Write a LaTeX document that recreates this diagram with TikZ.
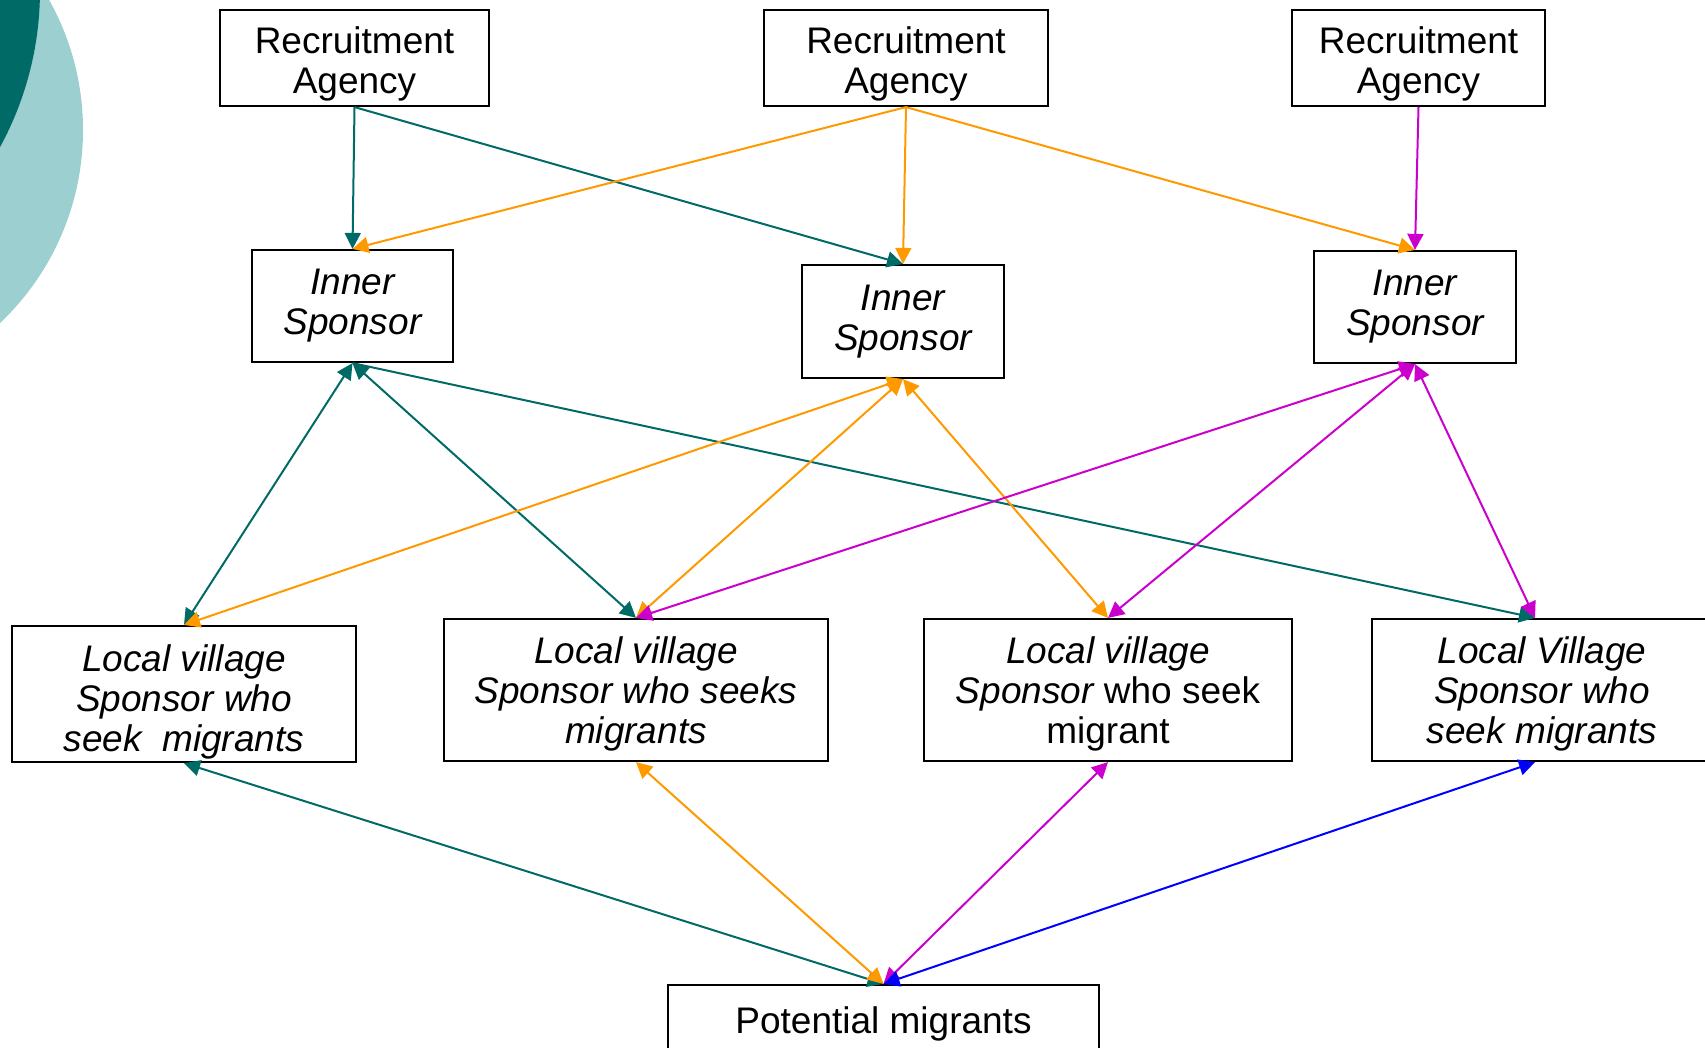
\documentclass[tikz,border=0pt]{standalone}
\usepackage{fontspec}
\setmainfont{Liberation Sans}
\usetikzlibrary{arrows.meta}
\definecolor{teal1}{HTML}{006B66}
\definecolor{lteal}{HTML}{9CCFCF}
\definecolor{org}{HTML}{FF9900}
\definecolor{mag}{HTML}{CC00CC}
\definecolor{blu}{HTML}{0000FF}
\newcommand{\dnshift}[1]{\rule{0pt}{\dimexpr 27pt+#1pt*2\relax}}
\tikzset{
  box/.style={draw=black, line width=2.2pt, fill=white, inner sep=0pt, align=center,
    font=\fontsize{37}{40}\selectfont},
  con/.style={line width=2pt, -{Triangle[length=16pt,width=16pt]}},
  bicon/.style={line width=2pt, {Triangle[length=16pt,width=16pt]}-{Triangle[length=16pt,width=16pt]}},
}
\begin{document}
\begin{tikzpicture}[x=1pt,y=-1pt]
\useasboundingbox (0,0) rectangle (1705,1047);
\fill[white] (0,0) rectangle (1705,1047);
\fill[lteal] (-183,130) circle[radius=266];
\fill[teal1] (-288,-10) circle[radius=328];

\node[box, minimum width=269pt, minimum height=96pt] (ra1) at (354.5,58) {\dnshift{6}Recruitment\\Agency};
\node[box, minimum width=284pt, minimum height=96pt] (ra2) at (906,58) {\dnshift{6}Recruitment\\Agency};
\node[box, minimum width=253pt, minimum height=96pt] (ra3) at (1418.5,58) {\dnshift{6}Recruitment\\Agency};

\node[box, minimum width=201pt, minimum height=112pt] (is1) at (352.5,306) {\itshape Inner\\\itshape Sponsor};
\node[box, minimum width=202pt, minimum height=113pt] (is2) at (903,321.5) {\itshape Inner\\\itshape Sponsor};
\node[box, minimum width=202pt, minimum height=112pt] (is3) at (1415,307) {\itshape Inner\\\itshape Sponsor};

\node[box, minimum width=344pt, minimum height=136pt] (lv1) at (184,694) {\dnshift{7.6}\itshape Local village\\\itshape Sponsor who\\\itshape seek\ \ migrants};
\node[box, minimum width=384pt, minimum height=142pt] (lv2) at (636,690) {\dnshift{3.8}\itshape Local village\\\itshape Sponsor who seeks\\\itshape migrants};
\node[box, minimum width=368pt, minimum height=142pt] (lv3) at (1108,690) {\dnshift{3.8}\itshape Local village\\{\itshape Sponsor} who seek\\migrant};
\node[box, minimum width=340pt, minimum height=142pt] (lv4) at (1542,690) {\dnshift{3.8}\itshape Local Village\\\itshape Sponsor who\\\itshape seek migrants};

\node[box, minimum width=431pt, minimum height=68pt] (pm) at (883.5,1019) {\dnshift{4.4}Potential migrants};

% agencies to inner sponsors
\draw[con, teal1] (ra1.south) -- (is1.north);
\draw[con, teal1] (ra1.south) -- (is2.north);
\draw[con, org] (ra2.south) -- (is1.north);
\draw[con, org] (ra2.south) -- (is2.north);
\draw[con, org] (ra2.south) -- (is3.north);
\draw[con, mag] (ra3.south) -- (is3.north);

% inner sponsors to local sponsors
\draw[bicon, teal1] (is1.south) -- (lv1.north);
\draw[bicon, teal1] (is1.south) -- (lv2.north);
\draw[con, teal1] (is1.south) -- ([xshift=-7pt]lv4.north);
\draw[bicon, org] (is2.south) -- (lv1.north);
\draw[bicon, org] (is2.south) -- (lv2.north);
\draw[bicon, org] (is2.south) -- (lv3.north);
\draw[bicon, mag] (is3.south) -- (lv2.north);
\draw[bicon, mag] (is3.south) -- (lv3.north);
\draw[bicon, mag] (is3.south) -- ([xshift=-7pt]lv4.north);

% local sponsors to potential migrants
\draw[bicon, teal1] (lv1.south) -- (pm.north);
\draw[bicon, org] (lv2.south) -- (pm.north);
\draw[bicon, mag] (lv3.south) -- (pm.north);
\draw[bicon, blu] ([xshift=-7pt]lv4.south) -- (pm.north);
\end{tikzpicture}
\end{document}
